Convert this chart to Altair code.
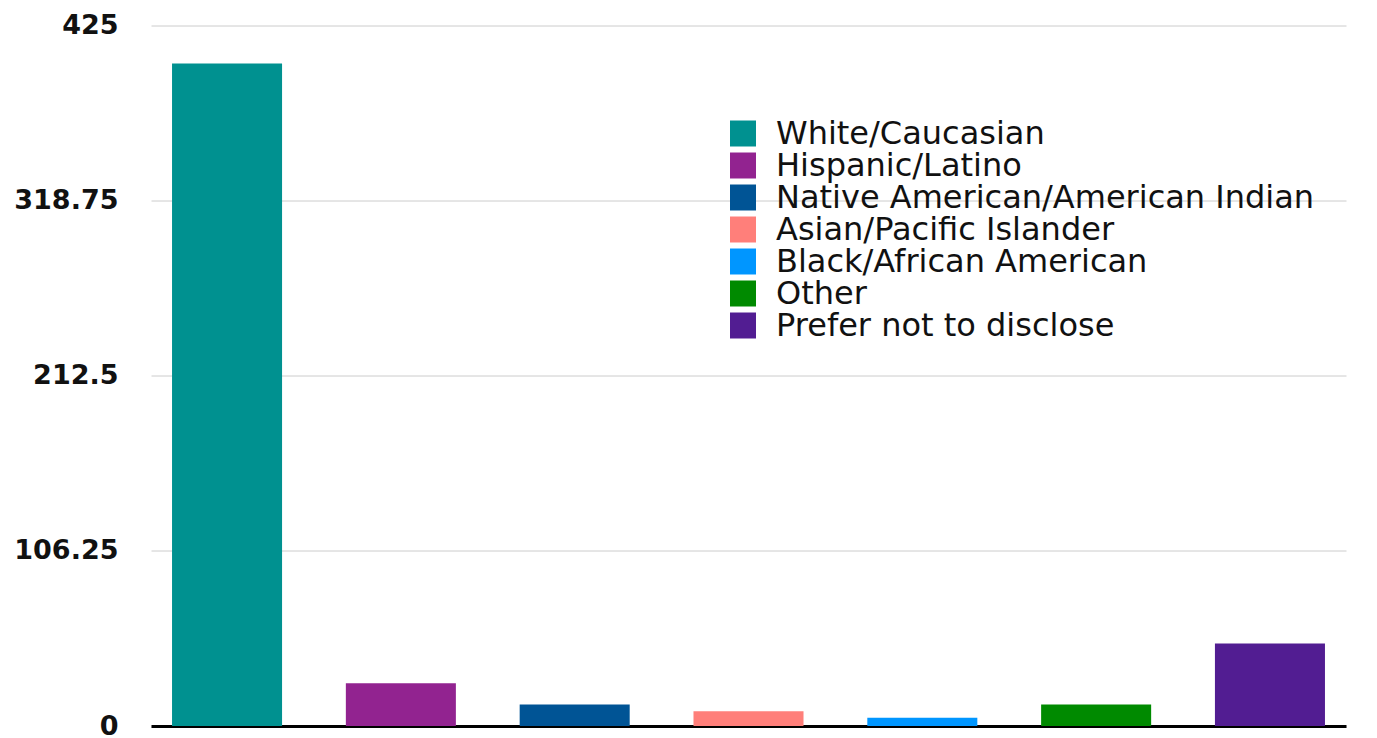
import altair as alt
import pandas as pd

categories = [
    "White/Caucasian",
    "Hispanic/Latino",
    "Native American/American Indian",
    "Asian/Pacific Islander",
    "Black/African American",
    "Other",
    "Prefer not to disclose",
]
counts = [402, 26, 13, 9, 5, 13, 50]
colors = ["#009190", "#922390", "#005495", "#FF7F7A", "#0096FF", "#008A00", "#521D92"]
y_ticks = [0, 106.25, 212.5, 318.75, 425]

df = pd.DataFrame({"category": categories, "count": counts})

chart = alt.Chart(df).mark_bar().encode(
    x=alt.X(
        "category:N",
        sort=categories,
        scale=alt.Scale(paddingInner=0.367, paddingOuter=0.121),
        axis=alt.Axis(
            title=None, labels=False, ticks=False,
            domainColor="#000000", domainWidth=3, grid=False,
        ),
    ),
    y=alt.Y(
        "count:Q",
        scale=alt.Scale(domain=[0, 425], nice=False),
        axis=alt.Axis(
            title=None, values=y_ticks, ticks=False, domain=False,
            gridColor="#cccccc", gridWidth=1,
            labelFont="DejaVu Sans", labelFontSize=27, labelFontWeight="bold",
            labelColor="#111111", labelPadding=33,
            labelExpr="datum.value == 0 ? '0' : format(datum.value, '.2~f')",
        ),
    ),
    color=alt.Color(
        "category:N",
        sort=categories,
        scale=alt.Scale(domain=categories, range=colors),
        legend=alt.Legend(
            title=None, orient="none", legendX=576, legendY=92,
            symbolType="square", symbolSize=676, symbolStrokeWidth=0,
            labelFont="DejaVu Sans", labelFontSize=32, labelFontWeight=400,
            labelColor="#111111", rowPadding=0, labelOffset=17,
            padding=0, labelLimit=900,
        ),
    ),
).properties(
    width=1195,
    height=700.5,
    autosize=alt.AutoSizeParams(type="none"),
    padding={"left": 143, "top": 17.5, "right": 23, "bottom": 12},
).configure_view(stroke=None)

chart.save("out.html", embed_options={"renderer": "svg", "actions": False})
